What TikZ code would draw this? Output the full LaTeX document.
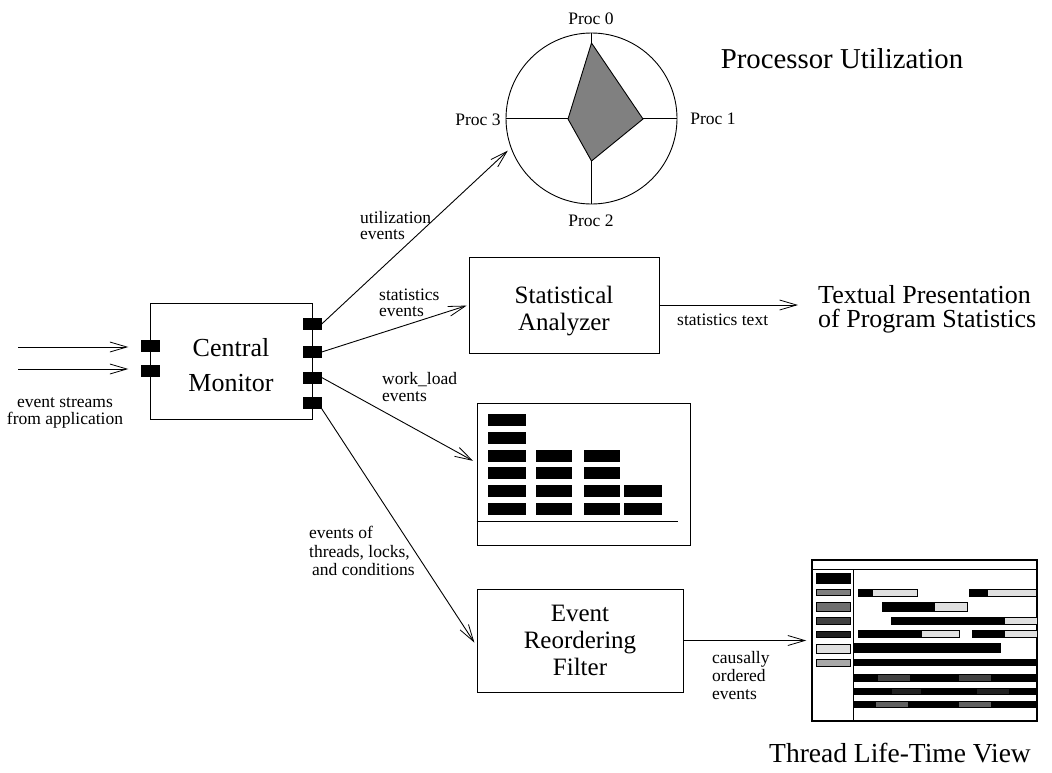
\documentclass[tikz,border=0pt]{standalone}
\usepackage{fontspec}
\setmainfont{Liberation Serif}
\usetikzlibrary{arrows.meta,positioning}

\definecolor{midgray}{gray}{0.50}
\definecolor{slategray}{gray}{0.44}
\definecolor{darkgray}{gray}{0.25}
\definecolor{nightgray}{gray}{0.13}
\definecolor{ashgray}{gray}{0.38}
\definecolor{paleray}{gray}{0.66}
\definecolor{litegray}{gray}{0.88}

\begin{document}
\begin{tikzpicture}[
    x=1pt, y=-1pt,                         % <- one unit = one pixel of the sketch, y runs down
    lbl/.style={font=\fontsize{17.5}{17.5}\selectfont, inner sep=0pt, align=left},
    title/.style={font=\fontsize{27.5}{30}\selectfont, inner sep=0pt, align=left},
    stage/.style={draw, line width=0.9pt, inner sep=0pt, align=center, font=\fontsize{25}{27}\selectfont},
    port/.style={fill=black, inner sep=0pt, minimum width=19pt, minimum height=12pt},
    flow/.style={line width=0.9pt, -{Straight Barb[length=17pt, width=10pt, line width=0.8pt]}},
    bar/.style={draw=black, line width=0.8pt},
  ]
  \useasboundingbox (0,0) rectangle (1052,772);

  % ---------- processing stages ----------
  \node[stage, minimum width=162pt, minimum height=116pt, font=\fontsize{26}{35}\selectfont]
    (mon) at (231,361) {\rule{0pt}{26pt}Central\\Monitor};
  \node[stage, minimum width=190pt, minimum height=96pt]  (stat) at (564,305)
    {\rule{0pt}{29pt}Statistical\\Analyzer};
  \node[stage, minimum width=206pt, minimum height=103pt] (filt) at (580,640.5) {Event\\Reordering\\Filter};

  % ---------- ports on the monitor ----------
  \node[port] (in1)  at (150,346)   {};
  \node[port] (in2)  at (150,371)   {};
  \node[port] (out1) at (312,324)   {};
  \node[port] (out2) at (312,352)   {};
  \node[port] (out3) at (312,377.5) {};
  \node[port] (out4) at (312,402.5) {};

  % ---------- processor utilization view (polar) ----------
  \node[draw, circle, line width=0.9pt, minimum size=171pt, inner sep=0pt] (util) at (591.5,118.5) {};
  \draw[line width=0.9pt] (util.north) -- (util.south);
  \draw[line width=0.9pt] (util.west) -- (util.east);
  \coordinate (q0) at (591.5,43);
  \coordinate (q1) at (643,119);
  \coordinate (q2) at (591.5,161);
  \coordinate (q3) at (568,119);
  \filldraw[fill=midgray, line width=0.9pt] (q0) -- (q1) -- (q2) -- (q3) -- cycle;
  \node[lbl] (proc0) at (591,19)  {Proc 0};
  \node[lbl] (proc1) at (713,119) {Proc 1};
  \node[lbl] (proc2) at (591,221) {Proc 2};
  \node[lbl] (proc3) at (478,120) {Proc 3};
  \node[title, font=\fontsize{28.8}{30}\selectfont] (utiltitle) at (842,59) {Processor Utilization};

  % ---------- work load view (bar chart) ----------
  \node[draw, line width=0.9pt, minimum width=213pt, minimum height=142pt, inner sep=0pt] (load) at (583.5,474) {};
  \coordinate (axisend) at (678,521);
  \draw[line width=0.9pt] (load.west |- axisend) -- (axisend);
  \foreach \xa/\xb/\n in {488/526/6, 536/572/4, 584/620/4, 624/662/2}
    \foreach \k in {1,...,\n}
      \fill (\xa,503-17.8*\k+17.8) rectangle (\xb,515-17.8*\k+17.8);

  % ---------- thread life-time view ----------
  \node[draw, line width=1.5pt, minimum width=225pt, minimum height=161pt, inner sep=0pt] (life) at (924.5,640.5) {};
  \draw[line width=1pt] (812,569) -- (1037,569);
  \draw[line width=1pt] (853,569) -- (853,721);
  % legend swatches
  \foreach \ya/\yb/\c in {573/583/black, 589/595/midgray, 602/611/slategray, 617/624/darkgray,
                          631/637/nightgray, 644/653/litegray, 659/666/paleray}
    \filldraw[bar, fill=\c] (816,\ya) rectangle (850,\yb);
  % thread bars: black part then light part
  \foreach \xa/\xm/\xb/\ya/\yb in {858/873/917/589/596, 969/988/1036/589/596,
                                   882/935/967/602/611, 891/1005/1037/617/624,
                                   858/922/959/630/637, 972/1005/1037/630/637}{
    \filldraw[bar, fill=litegray] (\xa,\ya) rectangle (\xb,\yb);
    \fill (\xa,\ya) rectangle (\xm,\yb);
  }
  \fill (853,643) rectangle (1001,653);
  \fill (853,659) rectangle (1037,666);
  % lock bars with held segments
  \foreach \ya/\yb/\c/\sa/\sb/\ta/\tb in {674/682/darkgray/878/910/959/991,
                                          688/695/nightgray/892/921/977/1009,
                                          701/708/ashgray/876/908/959/991}{
    \fill (853,\ya) rectangle (1037,\yb);
    \fill[\c] (\sa,\ya+1) rectangle (\sb,\yb-1);
    \fill[\c] (\ta,\ya+1) rectangle (\tb,\yb-1);
  }
  \node[title] (lifetitle) at (900,753) {Thread Life-Time View};

  % ---------- textual output ----------
  \node[title, anchor=west, font=\fontsize{26}{24}\selectfont] (txt) at (818,309)
    {Textual Presentation\\of Program Statistics};

  % ---------- event flows ----------
  \coordinate (src1) at (18,347);
  \coordinate (src2) at (18,369);
  \draw[flow, shorten >=12pt] (src1) -- (src1 -| in1.west);
  \draw[flow, shorten >=12pt] (src2) -- (src2 -| in2.west);
  \draw[flow, shorten >=4pt] (out1.east) -- (util.200);
  \draw[flow, shorten >=2pt] (out2.east) -- (stat.west);
  \draw[flow, shorten >=4pt] (out3.east) -- (load.174);
  \draw[flow, shorten >=4pt] (out4.south east) -- (filt.183);
  \draw[flow, shorten >=20pt] (stat.east) -- (stat.east -| txt.west);
  \draw[flow, shorten >=5pt] (filt.east) -- (filt.east -| life.west);

  % ---------- flow labels ----------
  \node[lbl, align=center] (srclbl) at (65,413) {event streams\\from application};
  \node[lbl, anchor=west, font=\fontsize{17.5}{16}\selectfont] (utillbl) at (360,226) {utilization\\events};
  \node[lbl, anchor=west, font=\fontsize{17.5}{16}\selectfont] (statlbl) at (379,303) {statistics\\events};
  \node[lbl, anchor=west] (loadlbl) at (382,387) {work\_load\\events};
  \node[lbl, anchor=west, font=\fontsize{17.5}{18.5}\selectfont] (synclbl) at (309,551)
    {events of\\threads, locks,\\\hspace*{3pt}and conditions};
  \node[lbl, anchor=west] (textlbl) at (677,320) {statistics text};
  \node[lbl, anchor=west, font=\fontsize{17.5}{18}\selectfont] (ordlbl) at (712,676)
    {causally\\ordered\\events};

\end{tikzpicture}
\end{document}
